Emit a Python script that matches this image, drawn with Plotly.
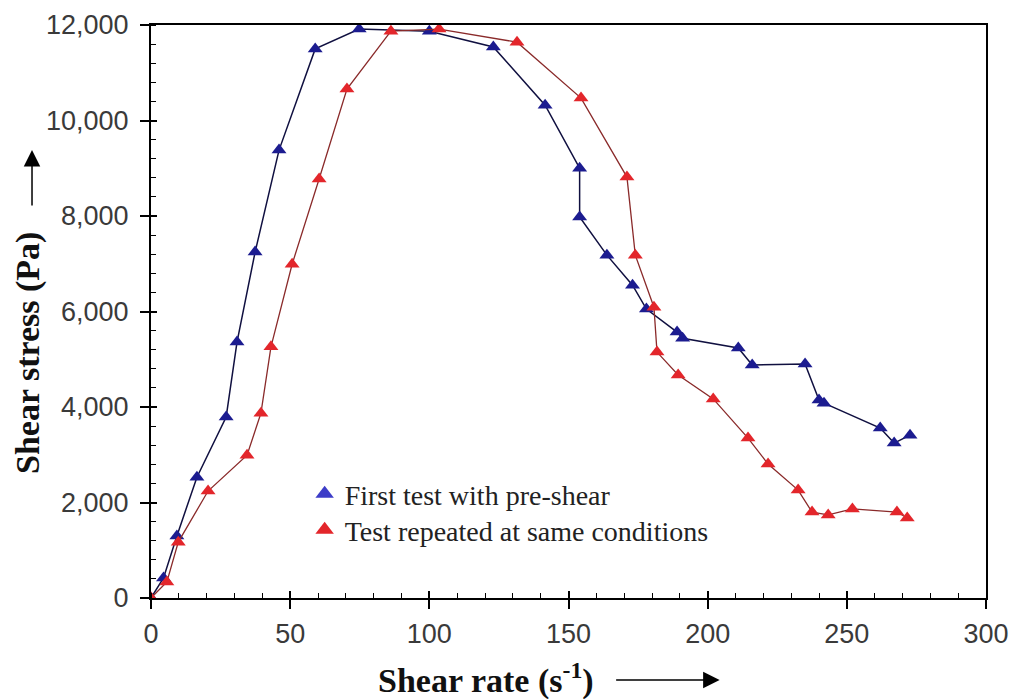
import plotly.graph_objects as go

# First test with pre-shear (blue)
blue_x = [0, 4.5, 9.3, 16.5, 27, 30.9, 37.4, 46, 59, 74.8, 100, 123, 141.6, 154, 154,
          163.8, 173, 178, 189, 191, 211, 216, 235, 240, 241.8, 262, 267, 272.7]
blue_y = [0, 420, 1300, 2530, 3790, 5360, 7245, 9380, 11500, 11915, 11870, 11540, 10320,
          9000, 7980, 7180, 6550, 6050, 5570, 5440, 5235, 4880, 4900, 4145, 4080, 3560, 3245, 3410]

# Test repeated at same conditions (red)
red_x = [0, 5.7, 9.8, 20.5, 34.5, 39.5, 43.1, 50.7, 60.4, 70.4, 86.2, 103.5, 131.5, 154.5,
         171, 174, 180.7, 181.8, 189.4, 202, 214.5, 221.7, 232.5, 237.5, 243.3, 252, 268, 271.7]
red_y = [0, 335, 1170, 2240, 2990, 3870, 5260, 6990, 8775, 10660, 11870, 11915, 11640, 10470,
         8815, 7180, 6090, 5150, 4670, 4170, 3350, 2805, 2260, 1800, 1740, 1865, 1800, 1675]

series_names = ["First test with pre-shear", "Test repeated at same conditions"]
x_ticks = [0, 50, 100, 150, 200, 250, 300]
y_ticks = [0, 2000, 4000, 6000, 8000, 10000, 12000]

BLUE = "#1c1c90"
RED = "#e3262b"

fig = go.Figure()
fig.add_trace(go.Scatter(
    x=blue_x, y=blue_y, mode="lines+markers", showlegend=False,
    line=dict(color="#101040", width=1.5),
    marker=dict(symbol="triangle-up", size=13, color=BLUE, line=dict(width=0)),
))
fig.add_trace(go.Scatter(
    x=red_x, y=red_y, mode="lines+markers", showlegend=False,
    line=dict(color="#8a2a2a", width=1.3),
    marker=dict(symbol="triangle-up", size=13, color=RED, line=dict(width=0)),
))
# legend-only entries (markers only), placed on overlay axes, one legend per row
fig.add_trace(go.Scatter(x=[None], y=[None], mode="markers", name=series_names[0],
                         xaxis="x2", yaxis="y2", legend="legend",
                         marker=dict(symbol="triangle-up", size=20, color="#3d3dc8")))
fig.add_trace(go.Scatter(x=[None], y=[None], mode="markers", name=series_names[1],
                         xaxis="x2", yaxis="y2", legend="legend2",
                         marker=dict(symbol="triangle-up", size=20, color=RED)))

TICKFONT = dict(family="Liberation Sans", size=27, color="#3a3a3a")
LEGFONT = dict(family="Liberation Serif", size=28, color="#222")

fig.update_layout(
    width=1014, height=699,
    margin=dict(l=151, r=28, t=25, b=101),
    paper_bgcolor="white", plot_bgcolor="white",
    legend=dict(x=0.184, y=0.1815, xanchor="left", yanchor="middle", font=LEGFONT,
                bgcolor="rgba(0,0,0,0)", itemsizing="trace"),
    legend2=dict(x=0.184, y=0.1187, xanchor="left", yanchor="middle", font=LEGFONT,
                 bgcolor="rgba(0,0,0,0)", itemsizing="trace"),
    xaxis=dict(
        range=[0, 300], tickvals=x_ticks, showgrid=False, zeroline=False, automargin=False,
        showline=True, linecolor="black", linewidth=2, mirror=True,
        ticks="outside", ticklen=9, tickwidth=1.5, tickcolor="black",
        minor=dict(dtick=10, ticks="inside", ticklen=5, tickwidth=1.2, tickcolor="black"),
        tickfont=TICKFONT, ticklabelstandoff=2,
    ),
    yaxis=dict(
        range=[0, 12000], tickvals=y_ticks, tickformat=",", showgrid=False, zeroline=False,
        automargin=False,
        showline=True, linecolor="black", linewidth=2, mirror=True,
        ticks="outside", ticklen=9, tickwidth=1.5, tickcolor="black",
        minor=dict(dtick=400, ticks="inside", ticklen=5, tickwidth=1.2, tickcolor="black"),
        tickfont=TICKFONT, ticklabelstandoff=6,
    ),
    xaxis2=dict(overlaying="x", range=[0, 300], tickvals=x_ticks, side="bottom",
                showticklabels=False, showgrid=False, zeroline=False, showline=False,
                automargin=False,
                ticks="inside", ticklen=7, tickwidth=1.5, tickcolor="black"),
    yaxis2=dict(overlaying="y", range=[0, 12000], tickvals=y_ticks, side="left",
                showticklabels=False, showgrid=False, zeroline=False, showline=False,
                automargin=False,
                ticks="inside", ticklen=6, tickwidth=1.5, tickcolor="black"),
)

# Axis titles with arrows
fig.add_annotation(xref="paper", yref="paper", x=-0.1473, y=0.4276,
                   xanchor="center", yanchor="middle",
                   text="<b>Shear stress (Pa)</b>", textangle=-90, showarrow=False,
                   font=dict(family="Liberation Serif", size=34, color="#111"))
fig.add_annotation(xref="paper", yref="paper", x=-0.1425, y=0.782, text="",
                   showarrow=True, ax=0, ay=57, arrowhead=2, arrowsize=2.2,
                   arrowwidth=1.5, arrowcolor="black")
fig.add_annotation(xref="paper", yref="paper", x=0.401, y=-0.140,
                   xanchor="center", yanchor="middle",
                   text="<b>Shear rate (s<sup>-1</sup>)</b>", showarrow=False,
                   font=dict(family="Liberation Serif", size=34, color="#111"))
fig.add_annotation(xref="paper", yref="paper", x=0.681, y=-0.143, text="",
                   showarrow=True, ax=-105, ay=0, arrowhead=2, arrowsize=2.2,
                   arrowwidth=1.5, arrowcolor="black")

fig.write_html("out.html")
